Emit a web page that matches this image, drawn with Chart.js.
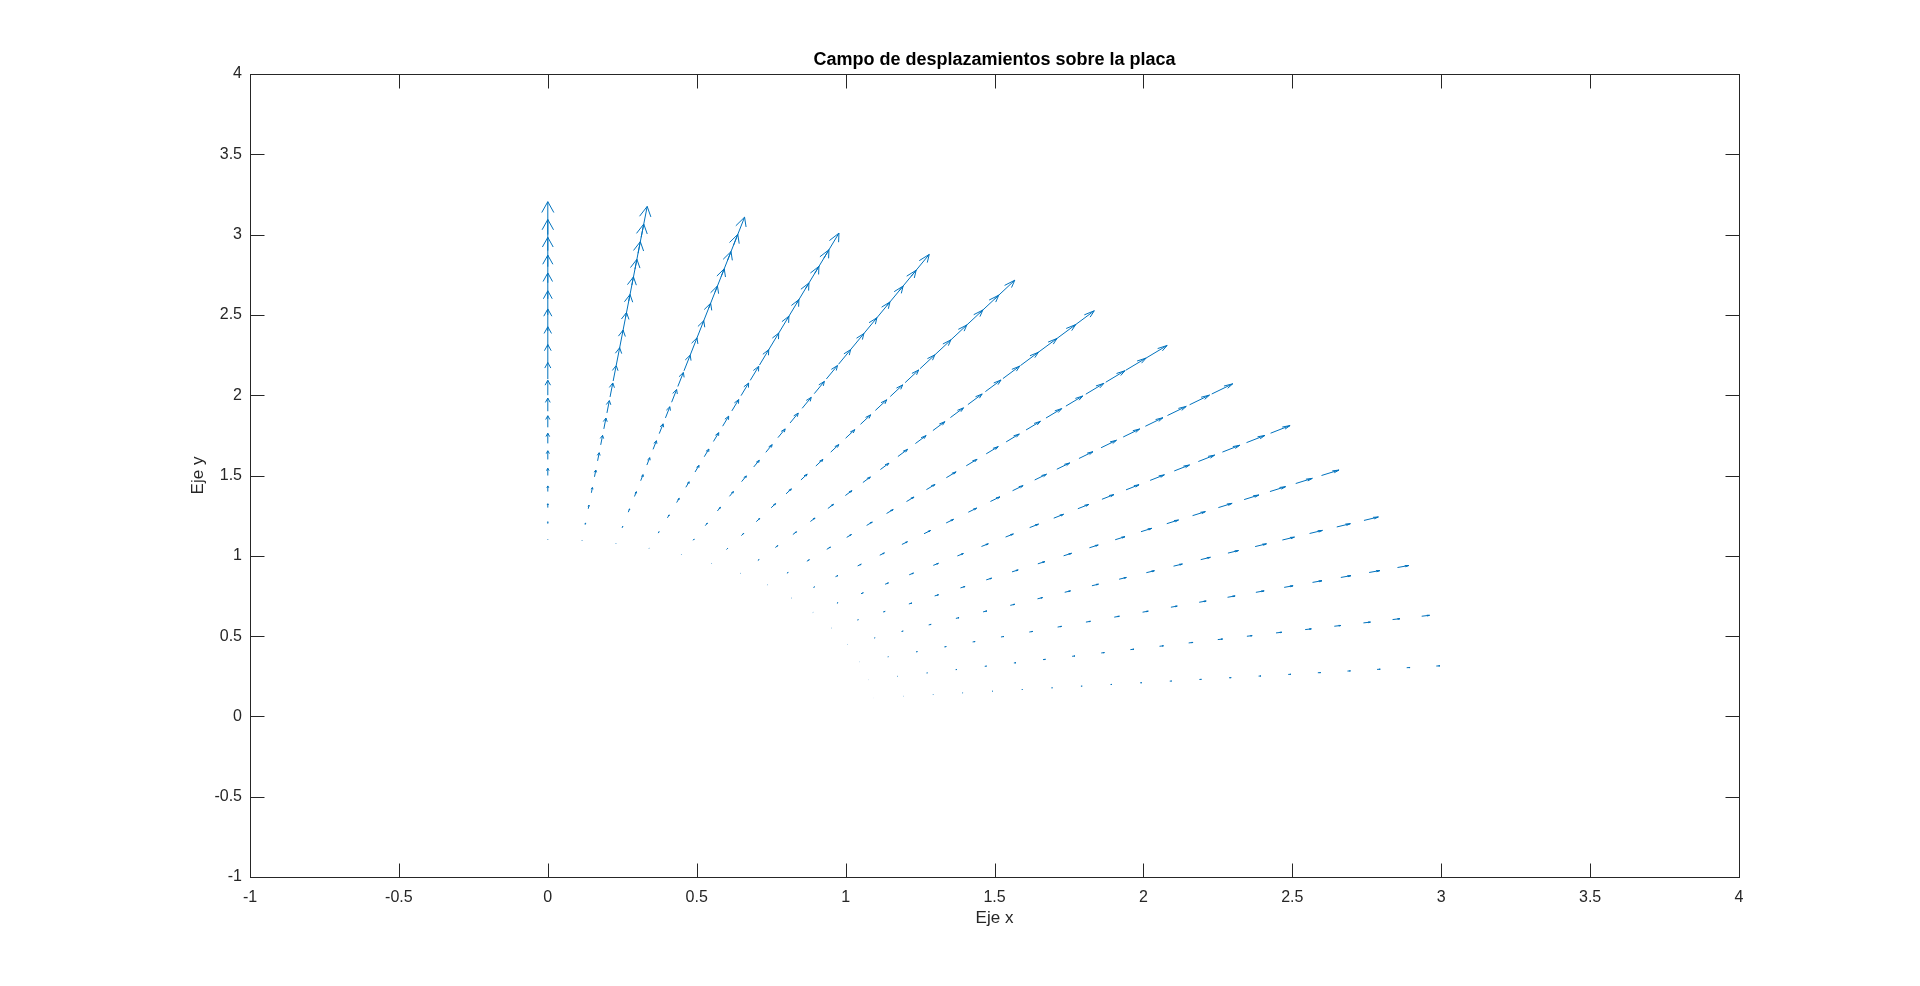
<!DOCTYPE html>
<html lang="es">
<head>
<meta charset="utf-8">
<title>Campo de desplazamientos sobre la placa</title>
<script src="https://cdn.jsdelivr.net/npm/chart.js@4.4.1/dist/chart.umd.min.js"></script>
<style>
  html, body { margin: 0; padding: 0; background: #fff; }
  #wrap { width: 1920px; height: 986px; }
</style>
</head>
<body>
<div id="wrap"><canvas id="quiverChart"></canvas></div>
<script>
// Angulos de los radios de la malla (grados)
var angulos = [6, 12, 18, 24, 30, 36, 42, 48, 54, 60, 66, 72, 78, 84, 90];
// Radio de cada nodo sobre un radio de la malla
var radios = [1.1, 1.2, 1.3, 1.4, 1.5, 1.6, 1.7, 1.8, 1.9, 2.0,
              2.1, 2.2, 2.3, 2.4, 2.5, 2.6, 2.7, 2.8, 2.9, 3.0];
// Longitud de la flecha en el borde exterior (r = 3) para cada angulo
var longitudBorde = [0.012, 0.027, 0.040, 0.053, 0.068, 0.081, 0.095, 0.108,
                     0.122, 0.136, 0.149, 0.164, 0.178, 0.193, 0.205];
// Longitud de las flechas a lo largo del radio de 90 grados
var perfilRadial = [0.003, 0.012, 0.024, 0.035, 0.045, 0.054, 0.063, 0.072, 0.082, 0.093,
                    0.103, 0.115, 0.126, 0.137, 0.150, 0.161, 0.172, 0.183, 0.194, 0.205];
var ticksEjes = [-1, -0.5, 0, 0.5, 1, 1.5, 2, 2.5, 3, 3.5, 4];

var fuente = 'Arial, "Liberation Sans", Helvetica, sans-serif';
var colorEjes = '#262626';

// tabla de flechas (x, y, u, v) a partir de los arrays de arriba
var flechas = [];
var maxPerfil = perfilRadial[perfilRadial.length - 1];
angulos.forEach(function (ang, i) {
    var t = ang * Math.PI / 180;
    radios.forEach(function (r, j) {
        var L = perfilRadial[j] * longitudBorde[i] / maxPerfil;
        flechas.push({
            x: r * Math.cos(t), y: r * Math.sin(t),
            u: L * Math.cos(t), v: L * Math.sin(t)
        });
    });
});

// flechas estilo quiver de MATLAB
var quiverPlugin = {
    id: 'quiver',
    afterDatasetsDraw: function (chart) {
        var ctx = chart.ctx;
        var xs = chart.scales.x, ys = chart.scales.y;
        var alpha = 0.33, beta = 0.3;
        var px = function (v) { return xs.getPixelForValue(v); };
        var py = function (v) { return ys.getPixelForValue(v); };
        ctx.save();
        ctx.strokeStyle = '#0072BD';
        ctx.lineWidth = 1;
        chart.data.datasets[0].data.forEach(function (p) {
            var x2 = p.x + p.u, y2 = p.y + p.v;
            ctx.beginPath();
            ctx.moveTo(px(p.x), py(p.y));
            ctx.lineTo(px(x2), py(y2));
            ctx.moveTo(px(x2 - alpha * (p.u + beta * p.v)), py(y2 - alpha * (p.v - beta * p.u)));
            ctx.lineTo(px(x2), py(y2));
            ctx.lineTo(px(x2 - alpha * (p.u - beta * p.v)), py(y2 - alpha * (p.v + beta * p.u)));
            ctx.stroke();
        });
        ctx.restore();
    }
};

// caja de ejes con marcas hacia dentro
var boxPlugin = {
    id: 'axesBox',
    afterDraw: function (chart) {
        var ctx = chart.ctx, a = chart.chartArea;
        var xs = chart.scales.x, ys = chart.scales.y;
        var len = 14;
        var l = Math.round(a.left) + 0.5, r = Math.round(a.right) + 0.5;
        var t = Math.round(a.top) + 0.5, b = Math.round(a.bottom) + 0.5;
        ctx.save();
        ctx.strokeStyle = colorEjes;
        ctx.lineWidth = 1;
        ctx.strokeRect(l, t, r - l, b - t);
        ctx.beginPath();
        ticksEjes.forEach(function (v) {
            var x = Math.round(xs.getPixelForValue(v)) + 0.5;
            ctx.moveTo(x, b); ctx.lineTo(x, b - len);
            ctx.moveTo(x, t); ctx.lineTo(x, t + len);
            var y = Math.round(ys.getPixelForValue(v)) + 0.5;
            ctx.moveTo(l, y); ctx.lineTo(l + len, y);
            ctx.moveTo(r, y); ctx.lineTo(r - len, y);
        });
        ctx.stroke();
        ctx.restore();
    }
};

function fijarTicks(scale) {
    scale.ticks = ticksEjes.map(function (v) { return { value: v }; });
}

var ctx = document.getElementById('quiverChart').getContext('2d');
new Chart(ctx, {
    type: 'scatter',
    data: {
        datasets: [{
            label: 'Desplazamientos',
            data: flechas,
            pointRadius: 0,
            showLine: false
        }]
    },
    options: {
        responsive: true,
        maintainAspectRatio: false,
        animation: false,
        layout: { padding: { left: 0, right: 181, top: 0, bottom: 0 } },
        plugins: {
            legend: { display: false },
            tooltip: { enabled: false },
            title: {
                display: true,
                text: 'Campo de desplazamientos sobre la placa',
                fullSize: false,
                color: '#000',
                font: { family: fuente, size: 18, weight: 'bold' },
                padding: { top: 49.7, bottom: 2.7 }
            }
        },
        scales: {
            x: {
                type: 'linear',
                min: -1,
                max: 4,
                grid: { display: false, drawTicks: false },
                border: { display: false },
                afterBuildTicks: fijarTicks,
                afterFit: function (s) { s.height = 109; },
                ticks: {
                    autoSkip: false,
                    maxRotation: 0,
                    padding: 11,
                    color: colorEjes,
                    font: { family: fuente, size: 16 },
                    callback: function (v) { return String(v); }
                },
                title: {
                    display: true,
                    text: 'Eje x',
                    color: colorEjes,
                    font: { family: fuente, size: 17 },
                    padding: { top: 57, bottom: 57 }
                }
            },
            y: {
                type: 'linear',
                min: -1,
                max: 4,
                grid: { display: false, drawTicks: false },
                border: { display: false },
                afterBuildTicks: fijarTicks,
                afterFit: function (s) { s.width = 250; },
                ticks: {
                    autoSkip: false,
                    padding: 8,
                    color: colorEjes,
                    font: { family: fuente, size: 16 },
                    callback: function (v) { return String(v); }
                },
                title: {
                    display: true,
                    text: 'Eje y',
                    color: colorEjes,
                    font: { family: fuente, size: 17 },
                    padding: { top: 188, bottom: 188 }
                }
            }
        }
    },
    plugins: [quiverPlugin, boxPlugin]
});
</script>
</body>
</html>
